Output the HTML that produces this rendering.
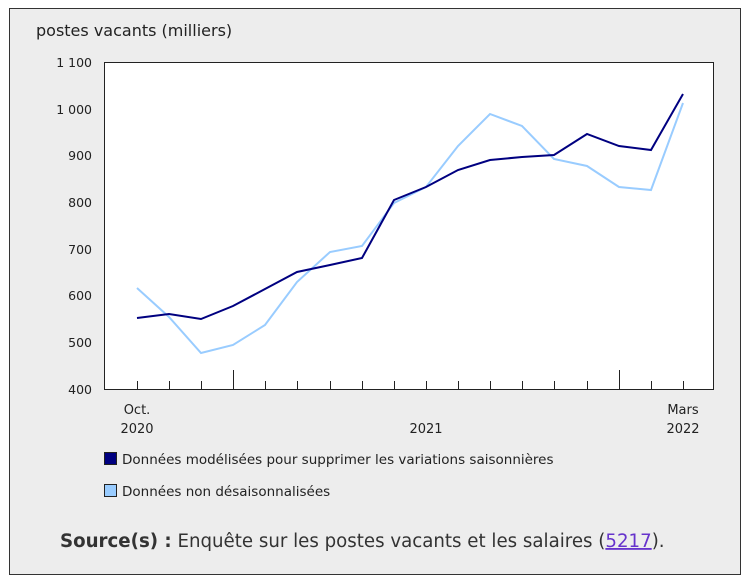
<!DOCTYPE html>
<html><head><meta charset="utf-8"><style>
body{margin:0;background:#fff;}
svg text{font-family:"DejaVu Sans","Liberation Sans",sans-serif;fill:#222;}
</style></head><body>
<svg width="749" height="578" xmlns="http://www.w3.org/2000/svg">
<rect x="9.5" y="8.5" width="731" height="566" fill="#ededed" stroke="#333" stroke-width="1"/>
<text x="36" y="36" font-size="16">postes vacants (milliers)</text>
<rect x="104.5" y="62.5" width="609" height="327" fill="#fff" stroke="#222"/>
<g font-size="12.5" text-anchor="end">
<text x="92" y="67">1 100</text><text x="92" y="114">1 000</text><text x="92" y="160">900</text>
<text x="92" y="207">800</text><text x="92" y="254">700</text><text x="92" y="300">600</text>
<text x="92" y="347">500</text><text x="92" y="394">400</text>
</g>
<g stroke="#222" stroke-width="1">
<path d="M137.5 389v-8M169.5 389v-8M201.5 389v-8M233.5 389v-19M265.5 389v-8M297.5 389v-8M330.5 389v-8M362.5 389v-8M394.5 389v-8M426.5 389v-8M458.5 389v-8M490.5 389v-8M522.5 389v-8M554.5 389v-8M587.5 389v-8M619.5 389v-19M651.5 389v-8M683.5 389v-8"/>
</g>
<g font-size="13" text-anchor="middle">
<text x="137" y="414">Oct.</text><text x="137" y="433">2020</text>
<text x="426" y="433">2021</text>
<text x="683" y="414">Mars</text><text x="683" y="433">2022</text>
</g>
<polyline fill="none" stroke="#99ccff" stroke-width="2" points="137,288 169,317 201,353 233,345 265,325 297,282 330,252 362,246 394,203 426,187 458,146 490,114 522,126 554,159 587,166 619,187 651,190 683,103"/>
<polyline fill="none" stroke="#000080" stroke-width="2" points="137,318 169,314 201,319 233,306 265,289 297,272 330,265 362,258 394,200 426,187 458,170 490,160 522,157 554,155 587,134 619,146 651,150 683,94"/>
<rect x="104.5" y="452.5" width="12" height="12" fill="#000080" stroke="#222"/>
<text x="122" y="464" font-size="13.5">Données modélisées pour supprimer les variations saisonnières</text>
<rect x="104.5" y="484.5" width="12" height="12" fill="#99ccff" stroke="#222"/>
<text x="122" y="496" font-size="13.5">Données non désaisonnalisées</text>
<text x="60" y="547" font-size="18.2" style="fill:#333"><tspan font-weight="bold">Source(s) :</tspan>  Enquête sur les postes vacants et les salaires (<tspan style="fill:#6633cc" text-decoration="underline">5217</tspan>).</text>
</svg>
</body></html>
